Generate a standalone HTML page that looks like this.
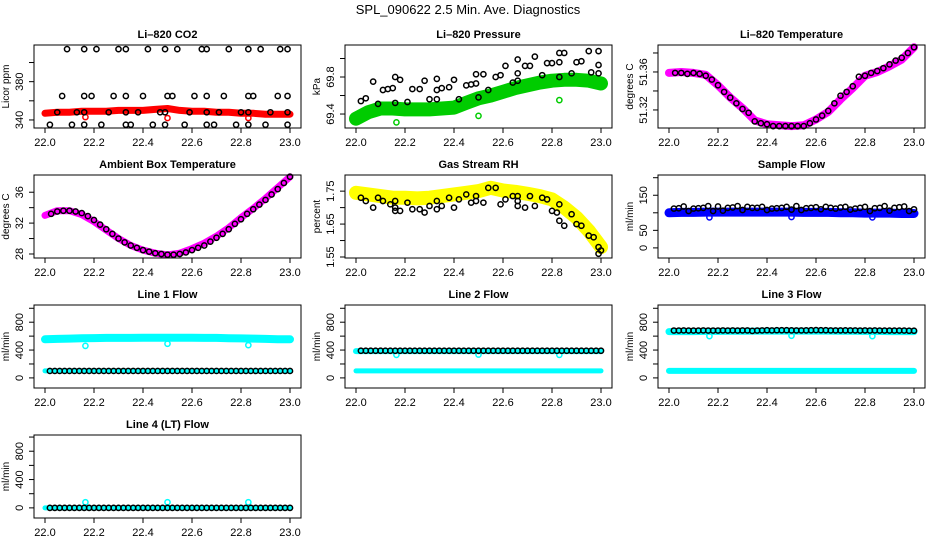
<!DOCTYPE html>
<html><head><meta charset="utf-8"><style>
html,body{margin:0;padding:0;background:#fff}
svg{display:block;font-family:"Liberation Sans",sans-serif}
</style></head><body>
<svg id="chart" width="936" height="540" viewBox="0 0 936 540">
<text x="468" y="14" text-anchor="middle" font-size="13">SPL_090622  2.5 Min. Ave. Diagnostics</text>
</svg>
<script>
const xTicks = [22.0, 22.2, 22.4, 22.6, 22.8, 23.0];
const xTickLabels = ["22.0","22.2","22.4","22.6","22.8","23.0"];
const tBand = [22.00,22.05,22.10,22.15,22.20,22.25,22.30,22.35,22.40,22.45,22.50,22.55,22.60,22.65,22.70,22.75,22.80,22.85,22.90,22.95,23.00];
const t50 = [22.02,22.04,22.06,22.08,22.10,22.12,22.14,22.16,22.18,22.20,22.22,22.24,22.26,22.28,22.30,22.32,22.34,22.36,22.38,22.40,22.42,22.44,22.46,22.48,22.50,22.52,22.54,22.56,22.58,22.60,22.62,22.64,22.66,22.68,22.70,22.72,22.74,22.76,22.78,22.80,22.82,22.84,22.86,22.88,22.90,22.92,22.94,22.96,22.98,23.00];
const t40 = [22.025,22.05,22.075,22.1,22.125,22.15,22.175,22.2,22.225,22.25,22.275,22.3,22.325,22.35,22.375,22.4,22.425,22.45,22.475,22.5,22.525,22.55,22.575,22.6,22.625,22.65,22.675,22.7,22.725,22.75,22.775,22.8,22.825,22.85,22.875,22.9,22.925,22.95,22.975,23.0];
const tOut = [22.165, 22.50, 22.83];

// CO2
const co2Red = [347,348,348,349,349,349,350,350,350,351,352,350,349,349,348,348,347,347,346,346,346];
const co2RedOut = [343,342,342];
const co2BlkTopX = [22.09,22.16,22.21,22.30,22.33,22.42,22.49,22.54,22.64,22.66,22.75,22.83,22.88,22.96,22.99];
const co2BlkMidX = [22.07,22.16,22.19,22.28,22.33,22.40,22.50,22.52,22.61,22.66,22.73,22.83,22.85,22.95,22.99];
const co2BlkRedX = [22.05,22.13,22.16,22.26,22.33,22.38,22.47,22.49,22.59,22.66,22.71,22.80,22.83,22.92,22.99];
const co2BlkLowX = [22.02,22.11,22.16,22.23,22.33,22.35,22.44,22.49,22.57,22.66,22.69,22.78,22.83,22.90,22.99];
const co2Levels = [414, 365, 348, 335];

// Pressure
const presGreen = [69.35,69.42,69.46,69.46,69.45,69.45,69.45,69.46,69.47,69.52,69.57,69.60,69.64,69.68,69.71,69.74,69.76,69.77,69.77,69.76,69.73];
const presGreenOut = [69.31,69.38,69.55];
const presBlkX = [22.02,22.04,22.07,22.09,22.11,22.13,22.15,22.16,22.16,22.18,22.21,22.23,22.26,22.28,22.30,22.33,22.33,22.33,22.35,22.38,22.40,22.42,22.45,22.47,22.49,22.49,22.50,22.52,22.54,22.57,22.59,22.61,22.64,22.66,22.66,22.66,22.69,22.71,22.73,22.76,22.78,22.80,22.83,22.83,22.83,22.85,22.88,22.90,22.92,22.95,22.96,22.99,22.99,22.99];
const presBlkY = [69.54,69.57,69.75,69.51,69.66,69.67,69.68,69.80,69.52,69.77,69.53,69.67,69.67,69.76,69.56,69.78,69.66,69.56,69.68,69.69,69.77,69.56,69.71,69.72,69.83,69.73,69.58,69.83,69.66,69.80,69.82,69.92,69.74,69.99,69.84,69.76,69.92,69.92,70.02,69.82,69.95,69.95,69.96,70.06,69.80,70.06,69.84,69.96,69.97,70.08,69.85,70.08,69.93,69.84];

// Li-820 temperature
const ltMag = [51.359,51.360,51.359,51.357,51.346,51.333,51.322,51.309,51.305,51.304,51.303,51.304,51.310,51.318,51.331,51.343,51.356,51.360,51.366,51.373,51.386];
const ltBlk = [51.359,51.359,51.358,51.359,51.358,51.356,51.352,51.346,51.339,51.333,51.327,51.321,51.317,51.308,51.306,51.305,51.303,51.303,51.303,51.303,51.303,51.303,51.306,51.310,51.314,51.319,51.327,51.335,51.339,51.345,51.355,51.356,51.359,51.361,51.364,51.368,51.372,51.375,51.380,51.386];

// Ambient box temperature
const abMag = [33.0,33.6,33.6,33.1,32.2,31.1,30.0,29.1,28.5,28.1,27.9,28.1,28.7,29.4,30.3,31.4,32.7,33.9,35.2,36.6,38.0];
const abBlk = [33.2,33.5,33.6,33.6,33.5,33.3,32.9,32.4,31.8,31.2,30.6,30.0,29.5,29.1,28.8,28.5,28.3,28.1,28.0,27.9,27.9,28.0,28.2,28.5,28.8,29.1,29.6,30.1,30.6,31.2,31.9,32.5,33.2,33.8,34.4,35.0,35.7,36.4,37.2,38.0];

// Gas stream RH
const rhYel = [1.745,1.740,1.735,1.730,1.730,1.728,1.730,1.735,1.740,1.745,1.750,1.760,1.752,1.748,1.742,1.735,1.725,1.700,1.670,1.630,1.580];
const rhBlkX = [22.02,22.04,22.07,22.09,22.11,22.14,22.16,22.16,22.16,22.18,22.21,22.23,22.26,22.28,22.30,22.33,22.33,22.35,22.38,22.40,22.42,22.45,22.47,22.49,22.49,22.52,22.54,22.57,22.59,22.61,22.64,22.66,22.66,22.66,22.69,22.71,22.73,22.76,22.78,22.80,22.82,22.83,22.83,22.85,22.88,22.90,22.92,22.95,22.97,22.99,22.99,23.0];
const rhBlkY = [1.73,1.72,1.70,1.73,1.72,1.71,1.72,1.70,1.69,1.69,1.715,1.695,1.695,1.685,1.705,1.72,1.695,1.705,1.73,1.70,1.725,1.74,1.715,1.735,1.72,1.715,1.76,1.76,1.71,1.725,1.735,1.735,1.72,1.705,1.70,1.735,1.705,1.73,1.725,1.69,1.685,1.66,1.71,1.645,1.68,1.65,1.645,1.615,1.61,1.58,1.56,1.57];

// Sample flow
const sfBlue = [100,101,101,102,102,102,102,102,102,102,102,101,101,101,100,100,99,99,99,98,98];
const sfBlueOut = [87,88,87];
const sfBlk = [112,113,118,105,112,113,114,119,105,118,106,114,115,119,108,117,114,114,117,108,112,113,114,117,109,119,108,113,114,116,110,117,114,112,115,117,109,112,114,117,105,113,114,119,106,114,116,118,105,110];

// Line flows
const l1CyanHi = [555,560,565,570,572,575,575,575,578,578,578,578,578,575,575,570,568,565,560,555,555];
const l1CyanLo = [100,100,100,100,100,100,100,100,100,100,100,100,100,100,100,100,100,100,100,100,100];
const l1CyanOut = [460,490,470];
const l1Blk = [100,100,100,100,100,100,100,100,100,100,100,100,100,100,100,100,100,100,100,100,100,100,100,100,100,100,100,100,100,100,100,100,100,100,100,100,100,100,100,100,100,100,100,100,100,100,100,100,100,100];
const l2CyanHi = [385,385,385,385,385,385,385,385,385,385,385,385,385,385,385,385,385,385,385,385,385];
const l2CyanLo = [100,100,100,100,100,100,100,100,100,100,100,100,100,100,100,100,100,100,100,100,100];
const l2CyanOut = [330,335,330];
const l2Blk = [390,390,390,390,390,390,390,390,390,390,390,390,390,390,390,390,390,390,390,390,390,390,390,390,390,390,390,390,390,390,390,390,390,390,390,390,390,390,390,390,390,390,390,390,390,390,390,390,390,390];
const l3CyanHi = [665,665,665,668,668,670,670,672,672,672,672,672,672,672,670,670,668,668,665,665,665];
const l3CyanLo = [100,100,100,100,100,100,100,100,100,100,100,100,100,100,100,100,100,100,100,100,100];
const l3CyanOut = [600,605,600];
const l3Blk = [680,680,682,680,680,680,682,680,680,680,682,680,682,680,682,682,675,680,682,685,682,685,684,685,683,682,682,683,684,686,685,684,682,682,682,683,682,682,680,682,680,682,680,680,680,680,680,680,678,678];
const l4Cyan = [0,0,0,0,0,0,0,0,0,0,0,0,0,0,0,0,0,0,0,0,0];
const l4CyanOut = [80,80,80];
const l4Blk = [0,0,0,0,0,0,0,0,0,0,0,0,0,0,0,0,0,0,0,0,0,0,0,0,0,0,0,0,0,0,0,0,0,0,0,0,0,0,0,0,0,0,0,0,0,0,0,0,0,0];

const NS = "http://www.w3.org/2000/svg";
const svg = document.getElementById("chart");
const colLeft = [34, 345, 658];
const rowTop = [45, 175, 305, 435];
const W = 267, H = 83;

function mk(tag, attrs, parent) {
  const e = document.createElementNS(NS, tag);
  for (const k in attrs) e.setAttribute(k, attrs[k]);
  parent.appendChild(e);
  return e;
}
function xScale(col) { const l = colLeft[col]; return v => l + 11 + (v - 22) * 245; }
function yScale(row, lo, hi) { const t = rowTop[row]; return v => t + H - (v - lo) / (hi - lo) * H; }

function panel(cfg) {
  const g = mk("g", {}, svg);
  
  
  const l = colLeft[cfg.col], t = rowTop[cfg.row];
  const sx = xScale(cfg.col), sy = yScale(cfg.row, cfg.lo, cfg.hi);
  const title = mk("text", {x: l + W/2, y: t - 7, "text-anchor": "middle", "font-size": 11, "font-weight": "bold"}, g);
  title.textContent = cfg.title;
  
  
  const plot = mk("g", {}, g);
  
  
  cfg.draw(plot, sx, sy);
  const box = mk("rect", {x: l, y: t, width: W, height: H, fill: "none", stroke: "#000", "stroke-width": 1}, g);
  
  
  const xa = mk("g", {}, g);
  
  
  mk("line", {x1: sx(xTicks[0]), x2: sx(xTicks[xTicks.length-1]), y1: t+H, y2: t+H, stroke: "#000"}, xa);
  xTicks.forEach((v, i) => {
    mk("line", {x1: sx(v), x2: sx(v), y1: t+H, y2: t+H+5, stroke: "#000"}, xa);
    const tx = mk("text", {x: sx(v), y: t+H+18, "text-anchor": "middle", "font-size": 11}, xa);
    tx.textContent = xTickLabels[i];
    
    
  });
  const ya = mk("g", {}, g);
  
  
  mk("line", {x1: l, x2: l, y1: sy(cfg.yticks[0]), y2: sy(cfg.yticks[cfg.yticks.length-1]), stroke: "#000"}, ya);
  cfg.yticks.forEach((v, i) => {
    mk("line", {x1: l-5, x2: l, y1: sy(v), y2: sy(v), stroke: "#000"}, ya);
    if (cfg.ylabels[i]) {
      const tx = mk("text", {x: l-11, y: sy(v), "text-anchor": "middle", "font-size": 11, transform: `rotate(-90 ${l-11} ${sy(v)})`}, ya);
      tx.textContent = cfg.ylabels[i];
      
      
    }
  });
  const yt = mk("text", {x: l-25, y: t+H/2, "text-anchor": "middle", "font-size": 10, transform: `rotate(-90 ${l-25} ${t+H/2})`}, g);
  yt.textContent = cfg.ylab;
  
  
}

function band(p, sx, sy, xs, ys, color, w) {
  const pts = xs.map((x, i) => sx(x).toFixed(1) + "," + sy(ys[i]).toFixed(1)).join(" ");
  const pl = mk("polyline", {points: pts, fill: "none", stroke: color, "stroke-width": w, "stroke-linejoin": "round", "stroke-linecap": "round"}, p);
  
  
}
function pts(p, sx, sy, xs, ys, color, r) {
  xs.forEach((x, i) => {
    const c = mk("circle", {cx: sx(x), cy: sy(ys[i]), r: r || 2.6, fill: "none", stroke: color, "stroke-width": 1.5}, p);
    
    
  });
}
function constArr(xs, v) { return xs.map(() => v); }

const flowTicks = [0,200,400,600,800,1000];
const flowLabels = ["0","","400","","800",""];

panel({name: "panel-co2", title: "Li–820 CO2", col: 0, row: 0, lo: 331.6, hi: 418.3, ylab: "Licor ppm",
  yticks: [340,360,380,400], ylabels: ["340","","380",""],
  draw: (p, sx, sy) => {
    band(p, sx, sy, tBand, co2Red, "#ff0000", 7);
    pts(p, sx, sy, tOut, co2RedOut, "#ff0000");
    [co2BlkTopX, co2BlkMidX, co2BlkRedX, co2BlkLowX].forEach((xs, k) => pts(p, sx, sy, xs, constArr(xs, co2Levels[k]), "#000"));
  }});
panel({name: "panel-pressure", title: "Li–820 Pressure", col: 1, row: 0, lo: 69.249, hi: 70.146, ylab: "kPa",
  yticks: [69.4,69.6,69.8,70.0], ylabels: ["69.4","","69.8",""],
  draw: (p, sx, sy) => {
    band(p, sx, sy, tBand, presGreen, "#00cc00", 14);
    pts(p, sx, sy, tOut, presGreenOut, "#00cc00");
    pts(p, sx, sy, presBlkX, presBlkY, "#000");
  }});
panel({name: "panel-li820-temp", title: "Li–820 Temperature", col: 2, row: 0, lo: 51.301, hi: 51.3884, ylab: "degrees C",
  yticks: [51.32,51.34,51.36,51.38], ylabels: ["51.32","","51.36",""],
  draw: (p, sx, sy) => {
    band(p, sx, sy, tBand, ltMag, "#ff00ff", 8);
    pts(p, sx, sy, t40, ltBlk, "#000");
  }});
panel({name: "panel-ambient-temp", title: "Ambient Box Temperature", col: 0, row: 1, lo: 27.48, hi: 38.23, ylab: "degrees C",
  yticks: [28,30,32,34,36], ylabels: ["28","","32","","36"],
  draw: (p, sx, sy) => {
    band(p, sx, sy, tBand, abMag, "#ff00ff", 7);
    pts(p, sx, sy, t40, abBlk, "#000");
  }});
panel({name: "panel-rh", title: "Gas Stream RH", col: 1, row: 1, lo: 1.547, hi: 1.799, ylab: "percent",
  yticks: [1.55,1.60,1.65,1.70,1.75], ylabels: ["1.55","","1.65","","1.75"],
  draw: (p, sx, sy) => {
    band(p, sx, sy, tBand, rhYel, "#ffff00", 14);
    pts(p, sx, sy, rhBlkX, rhBlkY, "#000");
  }});
panel({name: "panel-sample-flow", title: "Sample Flow", col: 2, row: 1, lo: -28.8, hi: 207.7, ylab: "ml/min",
  yticks: [0,50,100,150,200], ylabels: ["0","50","","150",""],
  draw: (p, sx, sy) => {
    band(p, sx, sy, tBand, sfBlue, "#0000ff", 9);
    pts(p, sx, sy, tOut, sfBlueOut, "#0000ff");
    pts(p, sx, sy, t50, sfBlk, "#000");
  }});
panel({name: "panel-line1-flow", title: "Line 1 Flow", col: 0, row: 2, lo: -145, hi: 1047, ylab: "ml/min",
  yticks: flowTicks, ylabels: flowLabels,
  draw: (p, sx, sy) => {
    band(p, sx, sy, tBand, l1CyanHi, "#00ffff", 8);
    band(p, sx, sy, tBand, l1CyanLo, "#00ffff", 5);
    pts(p, sx, sy, tOut, l1CyanOut, "#00ffff");
    pts(p, sx, sy, t50, l1Blk, "#000");
  }});
panel({name: "panel-line2-flow", title: "Line 2 Flow", col: 1, row: 2, lo: -145, hi: 1047, ylab: "ml/min",
  yticks: flowTicks, ylabels: flowLabels,
  draw: (p, sx, sy) => {
    band(p, sx, sy, tBand, l2CyanHi, "#00ffff", 6);
    band(p, sx, sy, tBand, l2CyanLo, "#00ffff", 5);
    pts(p, sx, sy, tOut, l2CyanOut, "#00ffff");
    pts(p, sx, sy, t50, l2Blk, "#000");
  }});
panel({name: "panel-line3-flow", title: "Line 3 Flow", col: 2, row: 2, lo: -145, hi: 1047, ylab: "ml/min",
  yticks: flowTicks, ylabels: flowLabels,
  draw: (p, sx, sy) => {
    band(p, sx, sy, tBand, l3CyanHi, "#00ffff", 7);
    band(p, sx, sy, tBand, l3CyanLo, "#00ffff", 6);
    pts(p, sx, sy, tOut, l3CyanOut, "#00ffff");
    pts(p, sx, sy, t50, l3Blk, "#000");
  }});
panel({name: "panel-line4-flow", title: "Line 4 (LT) Flow", col: 0, row: 3, lo: -143, hi: 1029, ylab: "ml/min",
  yticks: flowTicks, ylabels: flowLabels,
  draw: (p, sx, sy) => {
    band(p, sx, sy, tBand, l4Cyan, "#00ffff", 5);
    pts(p, sx, sy, tOut, l4CyanOut, "#00ffff");
    pts(p, sx, sy, t50, l4Blk, "#000");
  }});
</script>
</body></html>
